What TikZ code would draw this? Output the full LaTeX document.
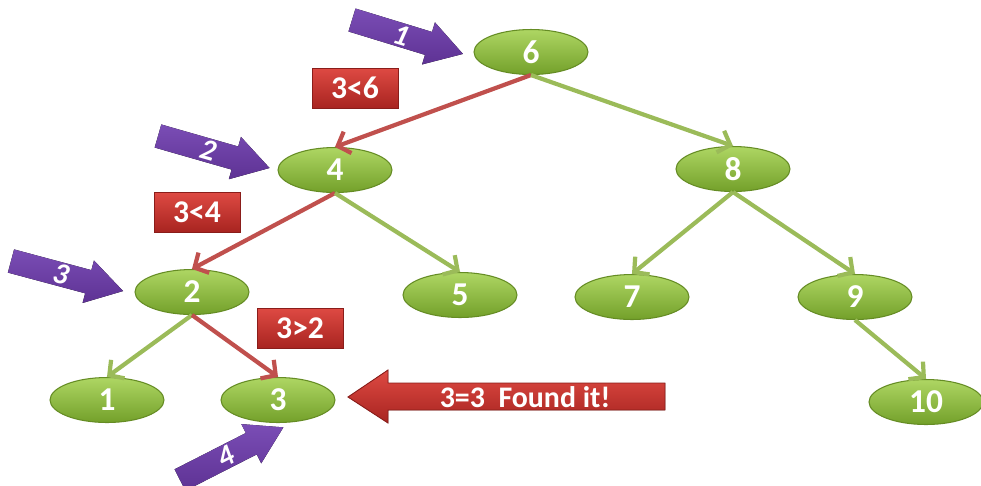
\documentclass[tikz,border=0pt]{standalone}
\usepackage{fontspec}
\setmainfont{Carlito}
\usetikzlibrary{shapes.geometric,arrows.meta}

\definecolor{leafTop}{HTML}{AED663}
\definecolor{leafBot}{HTML}{73A02A}
\definecolor{leafEdge}{HTML}{658C24}
\definecolor{linkGreen}{HTML}{9BBB59}
\definecolor{linkRed}{HTML}{C0504D}
\definecolor{tagTop}{HTML}{DE4A43}
\definecolor{tagBot}{HTML}{A82420}
\definecolor{tagEdge}{HTML}{8A1D1A}
\definecolor{ptrTop}{HTML}{7A4DB5}
\definecolor{ptrBot}{HTML}{5E3294}

\tikzset{
  x=0.02cm, y=-0.02cm,
  keynode/.style={ellipse, inner sep=0pt, minimum width=2.28cm, minimum height=0.9cm,
    top color=leafTop, bottom color=leafBot, draw=leafEdge, line width=0.6pt,
    text=white, font=\fontsize{19}{21}\selectfont\bfseries},
  linkok/.style={draw=linkGreen, line width=2.4pt, -{Straight Barb[length=6pt,width=13pt]}},
  linkhit/.style={draw=linkRed, line width=2.4pt, -{Straight Barb[length=6pt,width=13pt]}},
  cmptag/.style={rectangle, inner sep=0pt, minimum width=1.72cm, minimum height=0.8cm,
    top color=tagTop, bottom color=tagBot, draw=tagEdge, line width=0.5pt,
    text=white, font=\fontsize{18}{20}\selectfont\bfseries},
  ptrtext/.style={text=white, font=\fontsize{17}{19}\selectfont\bfseries\itshape, inner sep=0pt},
  pics/pointer/.style={code={
    \fill[top color=ptrTop, bottom color=ptrBot]
      (0,-12) -- (80,-12) -- (80,-22) -- (116,0) -- (80,22) -- (80,12) -- (0,12) -- cycle;
    \node[ptrtext, transform shape] at (52,0) {#1};
  }}
}

\begin{document}
\begin{tikzpicture}
\useasboundingbox (0,0) rectangle (981,485);

% tree keys
\node[keynode] (n6)  at (531,52)  {6};
\node[keynode] (n4)  at (335,170) {4};
\node[keynode] (n8)  at (733,169) {8};
\node[keynode] (n2)  at (192,292) {2};
\node[keynode] (n5)  at (460,295) {5};
\node[keynode] (n7)  at (632,297) {7};
\node[keynode] (n9)  at (855,297) {9};
\node[keynode] (n1)  at (107,400) {1};
\node[keynode] (n3)  at (278,400) {3};
\node[keynode] (n10) at (926,402) {10};

% links
\draw[linkhit] (n6.south) -- (n4.north);
\draw[linkok]  (n6.south) -- (n8.north);
\draw[linkhit] (n4.south) -- (n2.north);
\draw[linkok]  (n4.south) -- (n5.north);
\draw[linkok]  (n8.south) -- (n7.north);
\draw[linkok]  (n8.south) -- (n9.north);
\draw[linkok]  (n2.south) -- (n1.north);
\draw[linkhit] (n2.south) -- (n3.north);
\draw[linkok]  (n9.south) -- (n10.north);

% comparison tags
\node[cmptag] (c1) at (355,88)  {3<6};
\node[cmptag] (c2) at (197,212) {3<4};
\node[cmptag] (c3) at (300,328) {3>2};

% step pointers
\pic[rotate=-17] at (352,20)  {pointer=1};
\pic[rotate=-16] at (158,136) {pointer=2};
\pic[rotate=-15] at (11,261)  {pointer=3};
\pic[rotate=27]  at (180,480) {pointer=4};

% result arrow
\fill[top color=tagTop, bottom color=tagBot, draw=tagEdge, line width=0.5pt]
  (348,397) -- (388,370) -- (388,383) -- (665,383) -- (665,410) -- (388,410) -- (388,423) -- cycle;
\node[text=white, font=\fontsize{17}{19}\selectfont\bfseries, inner sep=0pt] (found) at (525,397) {3=3\ \ Found it!};

\end{tikzpicture}
\end{document}
